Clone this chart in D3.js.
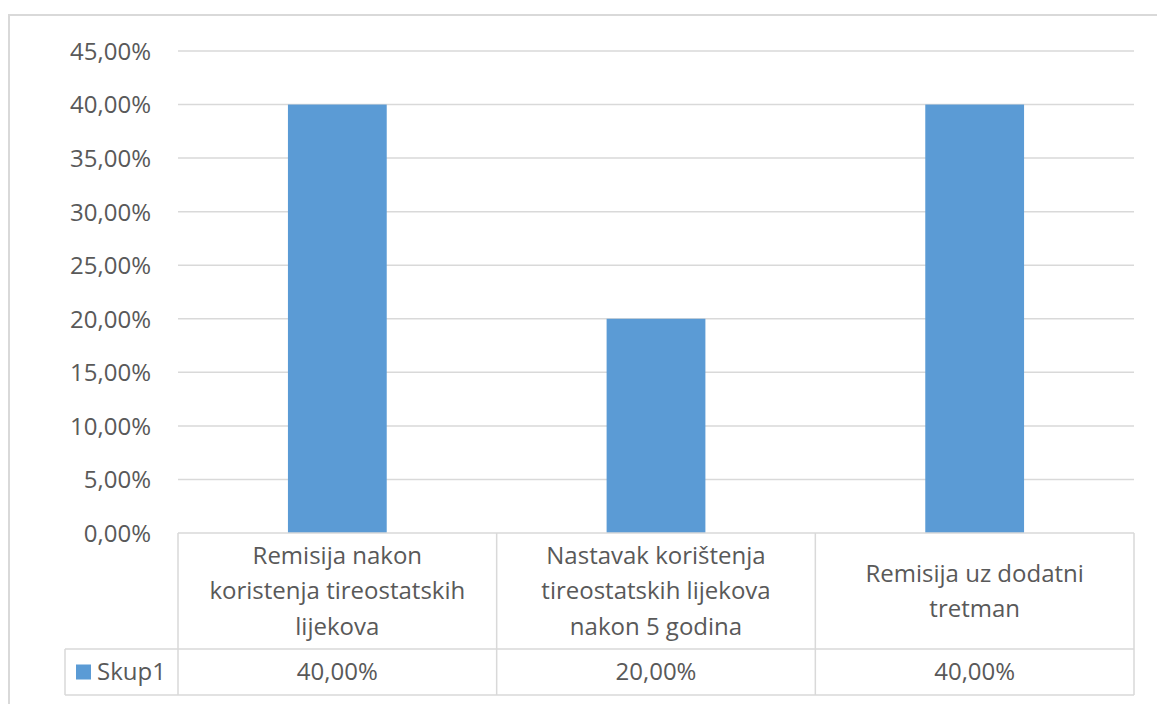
<!DOCTYPE html>
<html><head><meta charset="utf-8">
<script src="https://cdn.jsdelivr.net/npm/d3@7"></script>
<style>body{margin:0;background:#fff;} text{font-family:"Open Sans", Lato, sans-serif;}</style>
</head><body>
<svg id="c" width="1157" height="704"></svg>
<script>
const categories = [
  ["Remisija nakon", "koristenja tireostatskih", "lijekova"],
  ["Nastavak korištenja", "tireostatskih lijekova", "nakon 5 godina"],
  ["Remisija uz dodatni", "tretman"]
];
const seriesName = "Skup1";
const values = [0.40, 0.20, 0.40];
const yTicks = [0, 0.05, 0.10, 0.15, 0.20, 0.25, 0.30, 0.35, 0.40, 0.45];

(function () {
const svg = d3.select("#c");
const W = 1157, H = 704;
const pLeft = 178, pRight = 1134, pTop = 51, pBottom = 533;
const tableHeaderBottom = 649, tableBottom = 695, legendLeft = 65;
const gridColor = "#d9d9d9", textColor = "#595959", barColor = "#5b9bd5";
const fs = "24px";
const fmt = v => d3.format(".2f")(v * 100).replace(".", ",") + "%";

svg.append("rect").attr("x", 9).attr("y", 15).attr("width", W + 20).attr("height", H + 20)
  .attr("fill", "none").attr("stroke", gridColor).attr("stroke-width", 2);

const x = d3.scaleBand().domain(d3.range(categories.length)).range([pLeft, pRight]).padding(0);
const y = d3.scaleLinear().domain([0, 0.45]).range([pBottom, pTop]);

svg.append("g").selectAll("line").data(yTicks.filter(t => t > 0)).join("line")
  .attr("x1", pLeft).attr("x2", pRight)
  .attr("y1", d => y(d)).attr("y2", d => y(d))
  .attr("stroke", gridColor).attr("stroke-width", 1.5);

const yAxis = d3.axisLeft(y).tickValues(yTicks).tickFormat(fmt).tickSize(0).tickPadding(0);
const ga = svg.append("g").attr("transform", `translate(151,0)`).call(yAxis);
ga.select(".domain").remove();
ga.selectAll("text").attr("fill", textColor).style("font-size", fs).style("font-family", "Open Sans")
  .attr("dy", "0.35em");

const bw = x.bandwidth() * 0.31;
svg.append("g").selectAll("rect").data(values).join("rect")
  .attr("x", (d, i) => x(i) + x.bandwidth() / 2 - bw / 2)
  .attr("width", bw)
  .attr("y", d => y(d)).attr("height", d => y(0) - y(d))
  .attr("fill", barColor);

const tg = svg.append("g").attr("stroke", gridColor).attr("stroke-width", 1.5);
tg.append("line").attr("x1", pLeft).attr("x2", pRight).attr("y1", pBottom).attr("y2", pBottom);
tg.append("line").attr("x1", legendLeft).attr("x2", pRight).attr("y1", tableHeaderBottom).attr("y2", tableHeaderBottom);
tg.append("line").attr("x1", legendLeft).attr("x2", pRight).attr("y1", tableBottom).attr("y2", tableBottom);
tg.append("line").attr("x1", legendLeft).attr("x2", legendLeft).attr("y1", tableHeaderBottom).attr("y2", tableBottom);
const dividers = d3.range(categories.length + 1).map(i => i < categories.length ? x(i) : pRight);
tg.selectAll(".dv").data(dividers).join("line").attr("class", "dv")
  .attr("x1", d => d).attr("x2", d => d).attr("y1", pBottom).attr("y2", tableBottom);

const lh = 35.5;
categories.forEach((lines, i) => {
  const cx = x(i) + x.bandwidth() / 2;
  const cy = (pBottom + tableHeaderBottom) / 2;
  const start = cy - (lines.length - 1) * lh / 2;
  svg.append("g").selectAll("text").data(lines).join("text")
    .attr("x", cx).attr("y", (d, k) => start + k * lh)
    .attr("dy", "0.35em").attr("text-anchor", "middle")
    .attr("fill", textColor).style("font-size", fs).text(d => d);
});

const rowY = (tableHeaderBottom + tableBottom) / 2;
svg.append("g").selectAll("text").data(values).join("text")
  .attr("x", (d, i) => x(i) + x.bandwidth() / 2).attr("y", rowY)
  .attr("dy", "0.35em").attr("text-anchor", "middle")
  .attr("fill", textColor).style("font-size", fs).text(d => fmt(d));

svg.append("rect").attr("x", 76).attr("y", rowY - 7.5).attr("width", 15).attr("height", 15).attr("fill", barColor);
svg.append("text").attr("x", 97).attr("y", rowY).attr("dy", "0.35em")
  .attr("fill", textColor).style("font-size", fs).text(seriesName);
})();
</script>
</body></html>
